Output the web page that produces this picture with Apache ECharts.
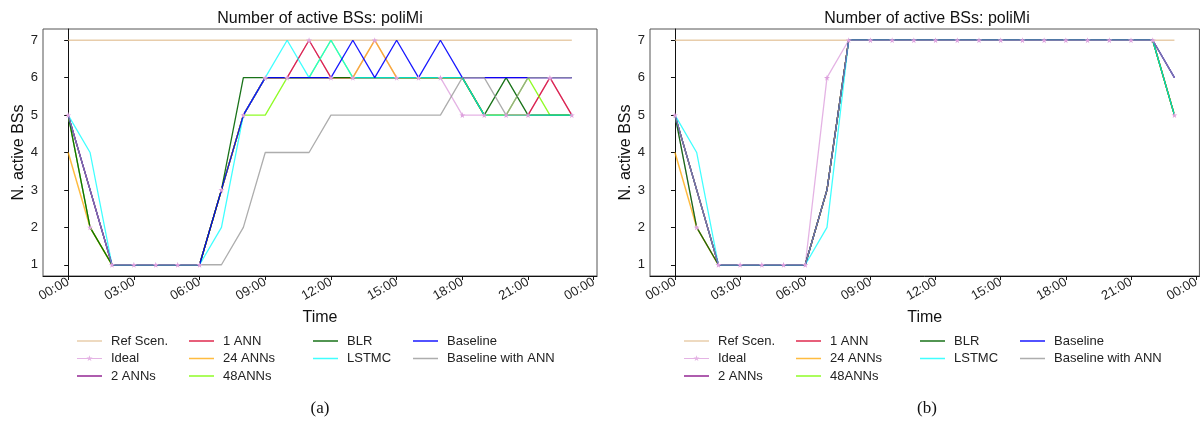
<!DOCTYPE html>
<html>
<head>
<meta charset="utf-8">
<script src="https://cdn.jsdelivr.net/npm/echarts@6/dist/echarts.min.js"></script>
<style>
html, body { margin: 0; padding: 0; background: #fff; }
#chart { width: 1202px; height: 423px; }
</style>
</head>
<body>
<div id="chart"></div>
<script>
// hourly samples, 00:00 .. 23:00
const hours = [0, 1, 2, 3, 4, 5, 6, 7, 8, 9, 10, 11, 12, 13, 14, 15, 16, 17, 18, 19, 20, 21, 22, 23]
const xTicks = [0, 3, 6, 9, 12, 15, 18, 21, 24]
const yTicks = [1, 2, 3, 4, 5, 6, 7]

const seriesNames = ['Ref Scen.', 'Ideal', '2 ANNs', '1 ANN', '24 ANNs', '48ANNs', 'BLR', 'LSTMC', 'Baseline', 'Baseline with ANN']
const seriesColors = ['#deb887', '#dda0dd', '#800080', '#dc143c', '#ffa500', '#7cfc00', '#006400', '#00ffff', '#0000ff', '#999999']

// (a)
const refA      = [7, 7, 7, 7, 7, 7, 7, 7, 7, 7, 7, 7, 7, 7, 7, 7, 7, 7, 7, 7, 7, 7, 7, 7]
const idealA    = [5, 2, 1, 1, 1, 1, 1, 3, 5, 6, 6, 7, 6, 6, 7, 6, 6, 6, 5, 5, 5, 5, 6, 5]
const ann2A     = [5, 3, 1, 1, 1, 1, 1, 3, 5, 6, 6, 6, 6, 6, 6, 6, 6, 6, 6, 6, 6, 6, 6, 6]
const ann1A     = [5, 3, 1, 1, 1, 1, 1, 3, 5, 6, 6, 7, 6, 6, 6, 6, 6, 6, 6, 5, 5, 5, 6, 5]
const ann24A    = [4, 2, 1, 1, 1, 1, 1, 3, 5, 6, 6, 6, 6, 6, 7, 6, 6, 6, 6, 5, 5, 5, 5, 5]
const ann48A    = [5, 2, 1, 1, 1, 1, 1, 3, 5, 5, 6, 6, 7, 6, 6, 6, 6, 6, 6, 5, 5, 6, 5, 5]
const blrA      = [5, 2, 1, 1, 1, 1, 1, 3, 6, 6, 6, 6, 6, 6, 6, 6, 6, 6, 6, 5, 6, 5, 5, 5]
const lstmcA    = [5, 4, 1, 1, 1, 1, 1, 2, 5, 6, 7, 6, 7, 6, 6, 6, 6, 6, 6, 5, 5, 5, 5, 5]
const baseA     = [5, 3, 1, 1, 1, 1, 1, 3, 5, 6, 6, 6, 6, 7, 6, 7, 6, 7, 6, 6, 6, 6, 6, 6]
const baseAnnA  = [5, 3, 1, 1, 1, 1, 1, 1, 2, 4, 4, 4, 5, 5, 5, 5, 5, 5, 6, 6, 5, 6, 6, 6]

// (b)
const refB      = [7, 7, 7, 7, 7, 7, 7, 7, 7, 7, 7, 7, 7, 7, 7, 7, 7, 7, 7, 7, 7, 7, 7, 7]
const idealB    = [5, 2, 1, 1, 1, 1, 1, 6, 7, 7, 7, 7, 7, 7, 7, 7, 7, 7, 7, 7, 7, 7, 7, 5]
const ann2B     = [5, 3, 1, 1, 1, 1, 1, 3, 7, 7, 7, 7, 7, 7, 7, 7, 7, 7, 7, 7, 7, 7, 7, 6]
const ann1B     = [5, 3, 1, 1, 1, 1, 1, 3, 7, 7, 7, 7, 7, 7, 7, 7, 7, 7, 7, 7, 7, 7, 7, 5]
const ann24B    = [4, 2, 1, 1, 1, 1, 1, 3, 7, 7, 7, 7, 7, 7, 7, 7, 7, 7, 7, 7, 7, 7, 7, 5]
const ann48B    = [5, 3, 1, 1, 1, 1, 1, 3, 7, 7, 7, 7, 7, 7, 7, 7, 7, 7, 7, 7, 7, 7, 7, 5]
const blrB      = [5, 2, 1, 1, 1, 1, 1, 3, 7, 7, 7, 7, 7, 7, 7, 7, 7, 7, 7, 7, 7, 7, 7, 5]
const lstmcB    = [5, 4, 1, 1, 1, 1, 1, 2, 7, 7, 7, 7, 7, 7, 7, 7, 7, 7, 7, 7, 7, 7, 7, 5]
const baseB     = [5, 3, 1, 1, 1, 1, 1, 3, 7, 7, 7, 7, 7, 7, 7, 7, 7, 7, 7, 7, 7, 7, 7, 6]
const baseAnnB  = [5, 3, 1, 1, 1, 1, 1, 3, 7, 7, 7, 7, 7, 7, 7, 7, 7, 7, 7, 7, 7, 7, 7, 6]

const panels = [
  { title: 'Number of active BSs: poliMi', caption: '(a)', values: [refA, idealA, ann2A, ann1A, ann24A, ann48A, blrA, lstmcA, baseA, baseAnnA] },
  { title: 'Number of active BSs: poliMi', caption: '(b)', values: [refB, idealB, ann2B, ann1B, ann24B, ann48B, blrB, lstmcB, baseB, baseAnnB] }
]

const STAR = 'path://M50,0 L61,35 L98,35 L68,57 L79,91 L50,70 L21,91 L32,57 L2,35 L39,35 Z'
// legend handles: a thin bar (plus a star for Ideal) inside a 25x14 box,
// the tiny corner squares keep the path's box at full size
const BOX = ' M0,0 L0.01,0 L0.01,0.01 Z M24.99,13.99 L25,13.99 L25,14 Z'
const LINE_ICON = 'path://M0,6.3 L25,6.3 L25,7.7 L0,7.7 Z' + BOX
const STAR_ICON = 'path://M0,6.4 L25,6.4 L25,7.6 L0,7.6 Z M12.5,3.8 L13.26,5.95 L15.54,6.01 L13.74,7.4 L14.38,9.59 L12.5,8.3 L10.62,9.59 L11.26,7.4 L9.46,6.01 L11.74,5.95 Z' + BOX

const FONT = 'Liberation Sans'
const opacities = [0.7, 0.8, 0.85, 0.9, 0.75, 0.85, 0.9, 0.75, 0.9, 0.8]
const widths = [1.5, 1.3, 1.3, 1.3, 1.5, 1.3, 1.3, 1.3, 1.3, 1.3]

const panelLeft = [43, 650]
const legendCols = [[0, 1, 2], [3, 4, 5], [6, 7], [8, 9]]
const legendColX = [77, 189, 313, 413]

const fmtTime = v => String(v % 24).padStart(2, '0') + ':00'

const chart = echarts.init(document.getElementById('chart'))

const grid = [], xAxis = [], yAxis = [], series = [], legend = [], title = []

panels.forEach((p, pi) => {
  const left = panelLeft[pi]
  const cx = left + 277
  grid.push({ left: left, top: 29, width: 554, height: 247, show: true, borderColor: '#555', borderWidth: 1 })
  xAxis.push({
    type: 'value', gridIndex: pi, min: -1.15, max: 24.15,
    name: 'Time', nameLocation: 'middle', nameGap: 30,
    nameTextStyle: { fontFamily: FONT, fontSize: 16, color: '#111' },
    axisLine: { show: true, lineStyle: { color: '#111' } },
    axisTick: { show: true, length: 4, lineStyle: { color: '#111' }, customValues: xTicks },
    axisLabel: { rotate: 30, margin: 5, fontFamily: FONT, fontSize: 13, color: '#222', customValues: xTicks, formatter: fmtTime },
    splitLine: { show: false }
  })
  yAxis.push({
    type: 'value', gridIndex: pi, min: 0.7, max: 7.3,
    name: 'N. active BSs', nameLocation: 'middle', nameGap: 14,
    nameTextStyle: { fontFamily: FONT, fontSize: 16, color: '#111' },
    axisLine: { show: true, lineStyle: { color: '#111' } },
    axisTick: { show: true, length: 4, lineStyle: { color: '#111' }, customValues: yTicks },
    axisLabel: { margin: 5, fontFamily: FONT, fontSize: 13, color: '#222', customValues: yTicks },
    splitLine: { show: false }
  })
  p.values.forEach((vals, si) => {
    const isIdeal = si === 1
    series.push({
      name: seriesNames[si],
      type: 'line',
      xAxisIndex: pi, yAxisIndex: pi,
      data: hours.map((h, i) => [h, vals[i]]),
      symbol: isIdeal ? STAR : 'none',
      symbolSize: 6,
      showSymbol: isIdeal,
      lineStyle: { color: seriesColors[si], width: widths[si], opacity: opacities[si] },
      itemStyle: { color: seriesColors[si] },
      emphasis: { disabled: true },
      silent: true,
      animation: false
    })
  })
  legendCols.forEach((col, ci) => {
    legend.push({
      orient: 'vertical',
      left: left - 43 + legendColX[ci],
      top: 334,
      padding: 0,
      itemWidth: 25,
      itemHeight: 14,
      itemGap: 3.5,
      selectedMode: false,
      data: col.map(i => ({
        name: seriesNames[i],
        icon: i === 1 ? STAR_ICON : LINE_ICON,
        itemStyle: { color: seriesColors[i], opacity: opacities[i], borderWidth: 0 }
      })),
      textStyle: { fontFamily: FONT, fontSize: 13, color: '#222', lineHeight: 14, padding: [0, 0, 0, 4] }
    })
  })
  title.push({
    text: p.title, left: cx, top: 11, textAlign: 'center', padding: 0,
    textStyle: { fontFamily: FONT, fontSize: 16, fontWeight: 'normal', color: '#111' }
  })
  title.push({
    text: p.caption, left: cx, top: 400, textAlign: 'center', padding: 0,
    textStyle: { fontFamily: 'Liberation Serif', fontSize: 17, fontWeight: 'normal', color: '#111' }
  })
})

chart.setOption({
  animation: false,
  backgroundColor: '#fff',
  title: title,
  grid: grid,
  xAxis: xAxis,
  yAxis: yAxis,
  legend: legend,
  series: series
})
</script>
</body>
</html>
